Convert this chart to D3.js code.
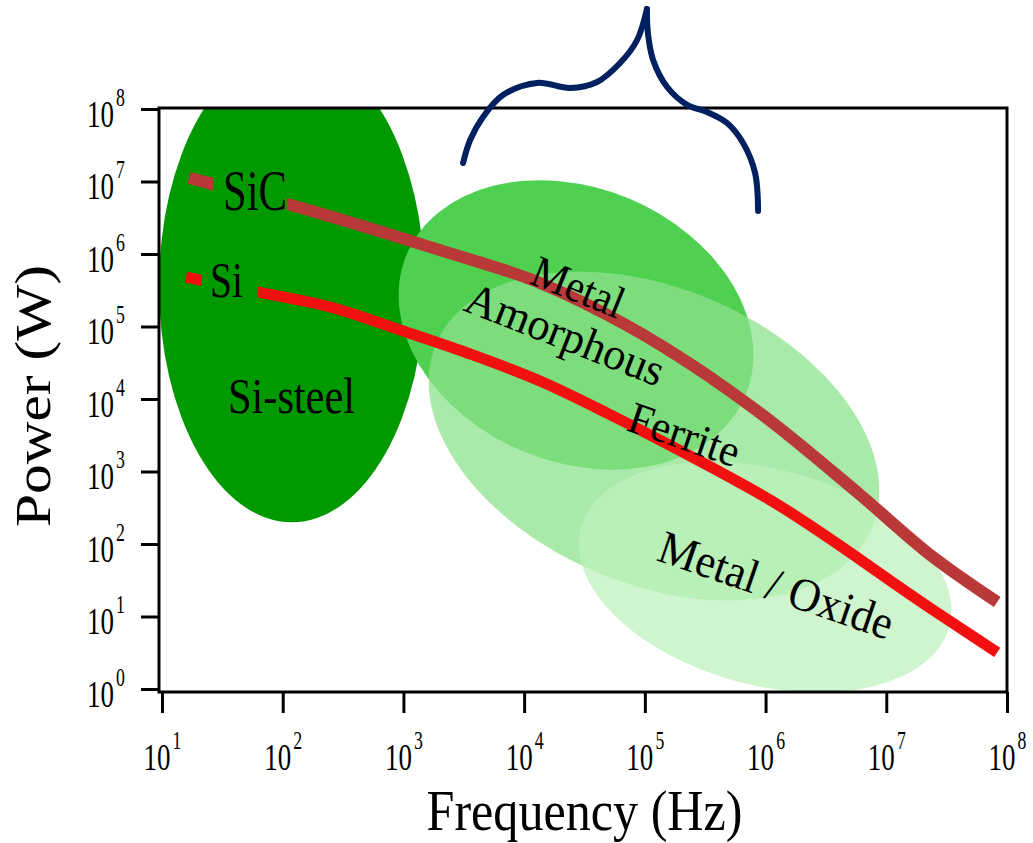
<!DOCTYPE html>
<html>
<head>
<meta charset="utf-8">
<script src="https://cdn.jsdelivr.net/npm/d3@7"></script>
<style>
  html, body { margin: 0; padding: 0; background: #fff; }
  svg { display: block; }
  text { font-family: "Liberation Serif", "Times New Roman", serif; fill: #000; }
</style>
</head>
<body>
<div id="chart"></div>
<script>
// Tick values (decades)
const xTicks = [1e1, 1e2, 1e3, 1e4, 1e5, 1e6, 1e7, 1e8];
const yTicks = [1e0, 1e1, 1e2, 1e3, 1e4, 1e5, 1e6, 1e7, 1e8];

// Device limit curves: frequency (Hz) / power (W)
const sicFreq  = [16.7, 109, 2010, 13550, 75300, 9.0e5, 6.1e6, 2.44e7, 8.3e7];
const sicPower = [1.12e7, 4.9e6, 1.13e6, 3.98e5, 9.8e4, 6.4e3, 474, 66, 15.8];
const siFreq   = [15.8, 62, 247, 993, 3570, 13550, 48600, 1.71e5, 1.09e6, 2.44e7, 8.3e7];
const siPower  = [4.8e5, 3.0e5, 1.86e5, 8.67e4, 4.18e4, 1.77e4, 6.4e3, 2180, 405, 12.3, 3.2];

// frequency range where each curve is interrupted by its name
const sicGap = [26.5, 108];
const siGap  = [21.4, 62];

// Magnetic material regions: centre, half extents in decades, tilt
const regionNames  = ["Si-steel", "Metal Amorphous", "Ferrite", "Metal / Oxide"];
const regionFreq   = [119, 2.69e4, 1.19e5, 9.9e5];
const regionPower  = [3.62e5, 1.05e5, 3.09e3, 35];
const regionFreqDec  = [1.1, 1.52, 1.96, 1.58];
const regionPowerDec = [3.26, 1.89, 2.04, 1.49];
const regionTilt   = [0, 22.5, 23, 15];

// Text labels anchored in data space
const labelText  = ["SiC", "Si", "Si-steel", "Metal", "Amorphous", "Ferrite", "Metal / Oxide"];
const labelFreq  = [32, 25, 35.2, 1.08e4, 3.06e3, 6.86e4, 1.22e5];
const labelPower = [4.05e6, 2.55e5, 6.4e3, 3.98e5, 1.69e5, 3.73e3, 60];
const labelAngle = [0, 0, 0, 22, 21.5, 19, 19];

// Brace above the chart (two halves meeting at the tip)
const braceLeftFreq   = [3.12e3, 3.57e3, 4.56e3, 6.68e3, 1.28e4, 2.40e4, 4.02e4, 6.23e4, 8.63e4, 1.04e5];
const braceLeftPower  = [1.80e7, 3.73e7, 7.76e7, 1.56e8, 2.29e8, 1.95e8, 2.36e8, 4.31e8, 8.95e8, 2.39e9];
const braceRightFreq  = [1.04e5, 1.06e5, 1.17e5, 1.53e5, 2.24e5, 3.27e5, 4.80e5, 6.51e5, 8.19e5, 8.67e5];
const braceRightPower = [2.39e9, 1.12e9, 4.74e8, 2.01e8, 1.14e8, 9.10e7, 6.41e7, 3.40e7, 1.31e7, 3.92e6];

// ---- styles ----
const regionFill    = ["#009900", "#50d050", "rgb(140,226,140)", "rgb(190,242,190)"];
const regionOpacity = [1, 1, 0.75, 0.75];
const labelSize = { "SiC": [58, 64], "Si": [50, 33], "Si-steel": [50, 127], "Metal": [45, 96],
                    "Amorphous": [45, 210], "Ferrite": [45, 115], "Metal / Oxide": [47, 245] };

const W = 1033, H = 843;
const svg = d3.select("#chart").append("svg").attr("width", W).attr("height", H);

const x = d3.scaleLog().domain([1e1, 1e8]).range([162, 1007]);
const y = d3.scaleLog().domain([1e0, 1e8]).range([689, 109]);
const decX = x(100) - x(10);
const decY = y(1) - y(10);

const frameLeft = x(1e1) - 3, frameRight = x(1e8);
const frameTop = y(1e8) - 1, frameBottom = y(1e0) + 3;

const defs = svg.append("defs");
defs.append("clipPath").attr("id", "plot-clip")
  .append("rect")
  .attr("x", frameLeft).attr("y", frameTop)
  .attr("width", frameRight - frameLeft).attr("height", frameBottom - frameTop);

const plot = svg.append("g").attr("clip-path", "url(#plot-clip)");

// Regions
const regions = regionNames.map((name, i) => ({
  name, f: regionFreq[i], p: regionPower[i],
  a: regionFreqDec[i], b: regionPowerDec[i], tilt: regionTilt[i], i
}));

plot.selectAll(".region")
  .data(regions)
  .enter()
  .append("ellipse")
  .attr("class", "region")
  .attr("cx", d => x(d.f))
  .attr("cy", d => y(d.p))
  .attr("rx", d => d.a * decX)
  .attr("ry", d => d.b * decY)
  .attr("transform", d => `rotate(${d.tilt},${x(d.f)},${y(d.p)})`)
  .attr("fill", d => regionFill[d.i])
  .attr("fill-opacity", d => regionOpacity[d.i]);

// Curves
const line = d3.line()
  .x(d => x(d[0]))
  .y(d => y(d[1]))
  .curve(d3.curveMonotoneX);

function drawCurve(id, freq, power, gap, color, width) {
  const m = defs.append("mask").attr("id", id)
    .attr("maskUnits", "userSpaceOnUse")
    .attr("x", 0).attr("y", 0).attr("width", W).attr("height", H);
  m.append("rect").attr("x", 0).attr("y", 0).attr("width", W).attr("height", H).attr("fill", "#fff");
  m.append("rect")
    .attr("x", x(gap[0])).attr("y", 0)
    .attr("width", x(gap[1]) - x(gap[0])).attr("height", H)
    .attr("fill", "#000");
  plot.append("path")
    .datum(freq.map((f, i) => [f, power[i]]))
    .attr("d", line)
    .attr("fill", "none")
    .attr("stroke", color)
    .attr("stroke-width", width)
    .attr("mask", `url(#${id})`);
}
drawCurve("sic-mask", sicFreq, sicPower, sicGap, "#b93838", 12);
drawCurve("si-mask", siFreq, siPower, siGap, "#f20f0f", 11);

// Labels
svg.selectAll(".label")
  .data(labelText.map((t, i) => ({ t, f: labelFreq[i], p: labelPower[i], a: labelAngle[i] })))
  .enter()
  .append("text")
  .attr("class", "label")
  .attr("transform", d => `translate(${x(d.f)},${y(d.p)}) rotate(${d.a})`)
  .attr("font-size", d => labelSize[d.t][0])
  .attr("textLength", d => labelSize[d.t][1])
  .attr("lengthAdjust", "spacingAndGlyphs")
  .text(d => d.t);

// Frame
svg.append("rect")
  .attr("x", frameLeft).attr("y", frameTop)
  .attr("width", frameRight - frameLeft).attr("height", frameBottom - frameTop)
  .attr("fill", "none").attr("stroke", "#000").attr("stroke-width", 3);

// power-of-ten tick label: "10" with a raised exponent, narrowed like the original
function powLabel(g, d, dx, dy) {
  const t = g.append("text")
    .attr("transform", `translate(${dx},${dy}) scale(0.71,1)`)
    .attr("text-anchor", "start");
  t.append("tspan").attr("font-size", 38).text("10");
  t.append("tspan").attr("font-size", 25).attr("dx", 3).attr("dy", -21)
    .text(Math.round(Math.log10(d)));
}

// X axis
const xAxis = svg.append("g")
  .attr("transform", `translate(0,${frameBottom})`)
  .call(d3.axisBottom(x).tickValues(xTicks).tickFormat("").tickSize(21).tickSizeOuter(0));
xAxis.select(".domain").remove();
xAxis.selectAll(".tick line").attr("stroke", "#000").attr("stroke-width", 3);
xAxis.selectAll(".tick").each(function (d) { powLabel(d3.select(this), d, -19, 78); });

// Y axis
const yAxis = svg.append("g")
  .attr("transform", `translate(${frameLeft},0)`)
  .call(d3.axisLeft(y).tickValues(yTicks).tickFormat("").tickSize(18).tickSizeOuter(0));
yAxis.select(".domain").remove();
yAxis.selectAll(".tick line").attr("stroke", "#000").attr("stroke-width", 3);
yAxis.selectAll(".tick").each(function (d) { powLabel(d3.select(this), d, -72, 17); });

// Axis titles
svg.append("text")
  .attr("x", (x(1e1) + x(1e8)) / 2).attr("y", 830)
  .attr("text-anchor", "middle")
  .attr("font-size", 58).attr("textLength", 316).attr("lengthAdjust", "spacingAndGlyphs")
  .text("Frequency (Hz)");

svg.append("text")
  .attr("transform", `translate(50,${(y(1) + y(1e8)) / 2 - 3}) rotate(-90)`)
  .attr("text-anchor", "middle")
  .attr("font-size", 50).attr("textLength", 262).attr("lengthAdjust", "spacingAndGlyphs")
  .text("Power (W)");

// Brace
const braceLine = d3.line()
  .x(d => x(d[0]))
  .y(d => y(d[1]))
  .curve(d3.curveCatmullRom.alpha(0.5));
[[braceLeftFreq, braceLeftPower], [braceRightFreq, braceRightPower]].forEach(([fs, ps]) => {
  svg.append("path")
    .datum(fs.map((f, i) => [f, ps[i]]))
    .attr("d", braceLine)
    .attr("fill", "none")
    .attr("stroke", "#002060")
    .attr("stroke-width", 6)
    .attr("stroke-linecap", "round");
});
</script>
</body>
</html>
